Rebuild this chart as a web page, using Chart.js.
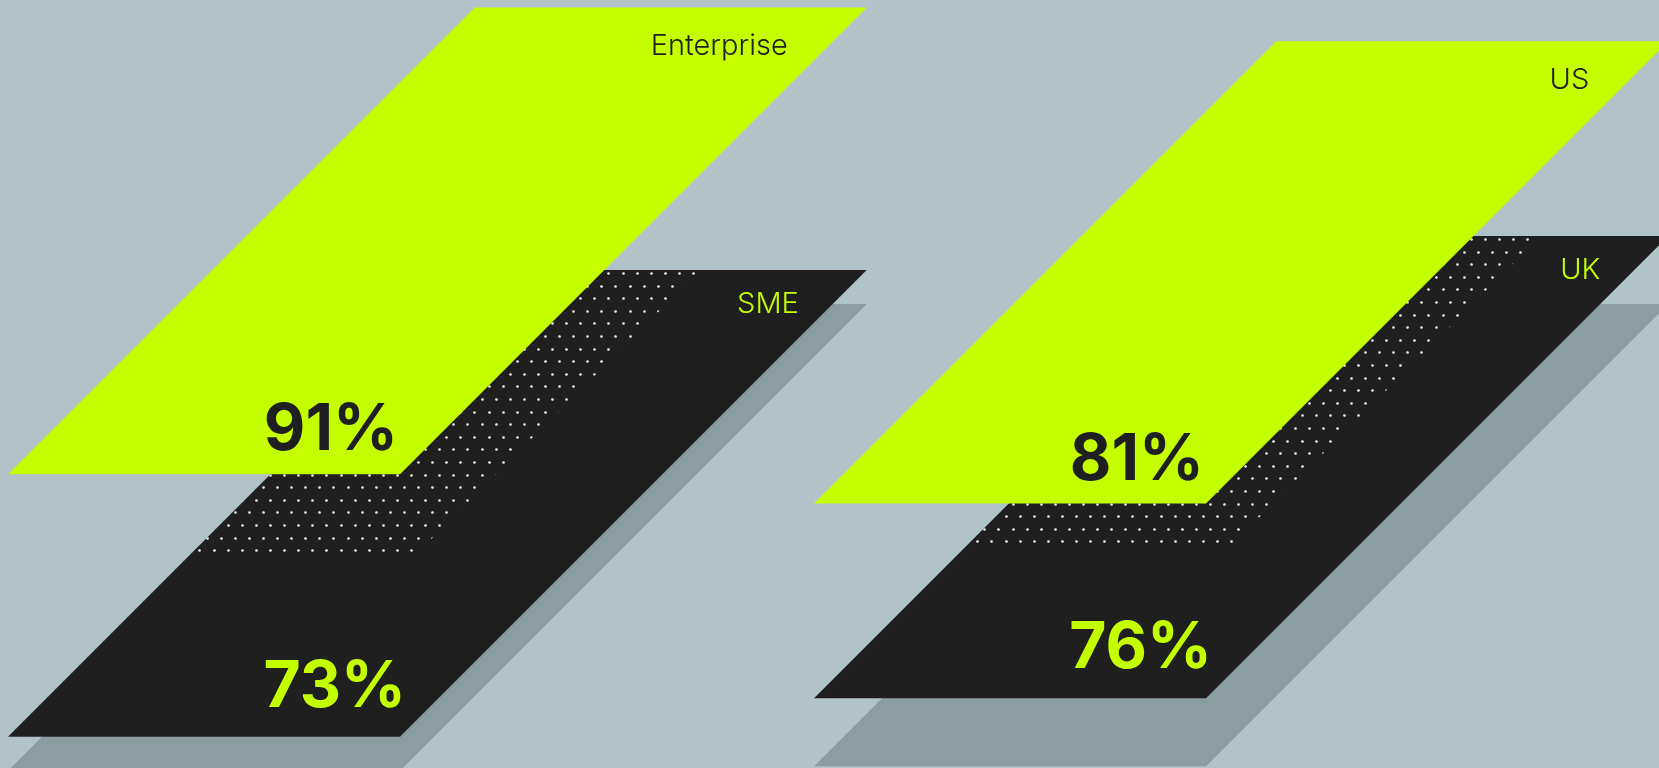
<!DOCTYPE html>
<html>
<head>
<meta charset="utf-8">
<title>Adoption by company size and market</title>
<script src="https://cdn.jsdelivr.net/npm/chart.js@4/dist/chart.umd.min.js"></script>
<style>
  html, body { margin: 0; padding: 0; background: #afc3c8; overflow: hidden; }
  #wrap { position: relative; width: 1659px; height: 768px; }
</style>
</head>
<body>
<div id="wrap"><canvas id="chart"></canvas></div>
<script>
// Two comparisons, each shown as a raised panel above a lower panel.
const groups = ['Company size', 'Market'];
const upperNames = ['Enterprise', 'US'];
const upperValues = [91, 81];
const lowerNames = ['SME', 'UK'];
const lowerValues = [73, 76];

const LIME = '#c4ff00';
const INK = '#1f1f1f';
const FLOOR = '#8a9ea1';
const DOT = 'rgba(255,255,255,0.95)';

// Each comparison has its own elevation axis; panel depth is given in that axis' units.
const groupAxes = [
  { id: 'yL', min: 38.86, max: 91.51, depth: 32.0, floorDrop: 34, dotShift: { dx: 16, dy: 80 } },
  { id: 'yR', min: 62.34, max: 82.06, depth: 11.87, floorDrop: 68, dotShift: { dx: 22, dy: 45 } }
];

function panelData(values, g) {
  const d = groupAxes[g].depth;
  return groups.map((_, i) => (i === g ? [values[g] - d, values[g]] : null));
}

const datasets = [];
groups.forEach((_, g) => {
  datasets.push({
    label: lowerNames[g], layer: 'lower', group: g,
    data: panelData(lowerValues, g), yAxisID: groupAxes[g].id,
    backgroundColor: INK
  });
  datasets.push({
    label: upperNames[g], layer: 'upper', group: g,
    data: panelData(upperValues, g), yAxisID: groupAxes[g].id,
    backgroundColor: LIME
  });
});

// Corners of a bar once it is slanted at 45 degrees about its base line.
function slanted(el) {
  const p = el.getProps(['x', 'y', 'base', 'width'], true);
  const h = p.base - p.y;
  const l = p.x - p.width / 2, r = p.x + p.width / 2;
  return {
    top: p.y, base: p.base,
    bl: [l, p.base], br: [r, p.base], tr: [r + h, p.y], tl: [l + h, p.y]
  };
}

function tracePanel(ctx, c, dx, dy) {
  ctx.moveTo(c.bl[0] + dx, c.bl[1] + dy);
  ctx.lineTo(c.br[0] + dx, c.br[1] + dy);
  ctx.lineTo(c.tr[0] + dx, c.tr[1] + dy);
  ctx.lineTo(c.tl[0] + dx, c.tl[1] + dy);
  ctx.closePath();
}

function drawSlanted(ctx, el) {
  const base = el.getProps(['base'], true).base;
  ctx.save();
  ctx.transform(1, 0, -1, 1, base, 0);
  el.draw(ctx);
  ctx.restore();
}

const slantPlugin = {
  id: 'slantedPanels',
  beforeDatasetsDraw(chart) {
    const ctx = chart.ctx;
    groups.forEach((_, g) => {
      const lowerIdx = chart.data.datasets.findIndex(d => d.group === g && d.layer === 'lower');
      const upperIdx = chart.data.datasets.findIndex(d => d.group === g && d.layer === 'upper');
      const lowerEl = chart.getDatasetMeta(lowerIdx).data[g];
      const upperEl = chart.getDatasetMeta(upperIdx).data[g];
      const lo = slanted(lowerEl), up = slanted(upperEl);
      const cfg = groupAxes[g];

      // lower panel with its floor shadow
      ctx.save();
      ctx.shadowColor = FLOOR;
      ctx.shadowBlur = 0;
      ctx.shadowOffsetX = 0;
      ctx.shadowOffsetY = cfg.floorDrop;
      drawSlanted(ctx, lowerEl);
      ctx.restore();

      // dotted shade cast by the upper panel on the lower one
      ctx.save();
      ctx.beginPath();
      tracePanel(ctx, lo, 0, 0);
      ctx.clip();
      ctx.beginPath();
      tracePanel(ctx, up, cfg.dotShift.dx, cfg.dotShift.dy);
      ctx.clip();
      ctx.fillStyle = DOT;
      const rowGap = 12.6, colGap = 14.1;
      const x0 = lo.bl[0] - 20, x1 = lo.tr[0] + 20;
      let row = 0;
      for (let y = lo.top + 3; y < lo.base; y += rowGap, row++) {
        const phase = (row % 2) * colGap / 2;
        for (let x = x0 + phase; x < x1; x += colGap) {
          ctx.beginPath();
          ctx.arc(Math.round(x) + 0.5, Math.round(y) + 0.5, 1.3, 0, Math.PI * 2);
          ctx.fill();
        }
      }
      ctx.restore();

      // raised panel
      drawSlanted(ctx, upperEl);

      // labels
      ctx.save();
      ctx.textAlign = 'right';
      ctx.textBaseline = 'alphabetic';
      ctx.font = '300 29px Inter, "Open Sans", sans-serif';
      ctx.fillStyle = INK;
      let by = up.top + 48;
      ctx.fillText(upperNames[g], up.tr[0] - (by - up.top) - 31, by);
      ctx.fillStyle = LIME;
      by = lo.top + 43;
      ctx.fillText(lowerNames[g], lo.tr[0] - (by - lo.top) - 25, by);

      ctx.font = '700 64px Inter, "Open Sans", sans-serif';
      ctx.fillStyle = INK;
      ctx.fillText(upperValues[g] + '%', up.br[0] - 2, up.base - 24);
      ctx.fillStyle = LIME;
      ctx.fillText(lowerValues[g] + '%', lo.br[0] + 6, lo.base - 30);
      ctx.restore();
    });
    return false;
  }
};

new Chart(document.getElementById('chart'), {
  type: 'bar',
  data: { labels: groups, datasets },
  options: {
    responsive: true,
    maintainAspectRatio: false,
    devicePixelRatio: 1,
    animation: false,
    events: [],
    layout: { padding: { left: 204, right: 649, top: 0, bottom: 0 } },
    datasets: { bar: { grouped: false, barThickness: 392, borderWidth: 0, inflateAmount: 0 } },
    plugins: { legend: { display: false }, tooltip: { enabled: false } },
    scales: {
      x: { type: 'category', offset: false, display: false, grid: { display: false } },
      yL: { type: 'linear', min: groupAxes[0].min, max: groupAxes[0].max, display: false },
      yR: { type: 'linear', min: groupAxes[1].min, max: groupAxes[1].max, display: false }
    }
  },
  plugins: [slantPlugin]
});
</script>
</body>
</html>
